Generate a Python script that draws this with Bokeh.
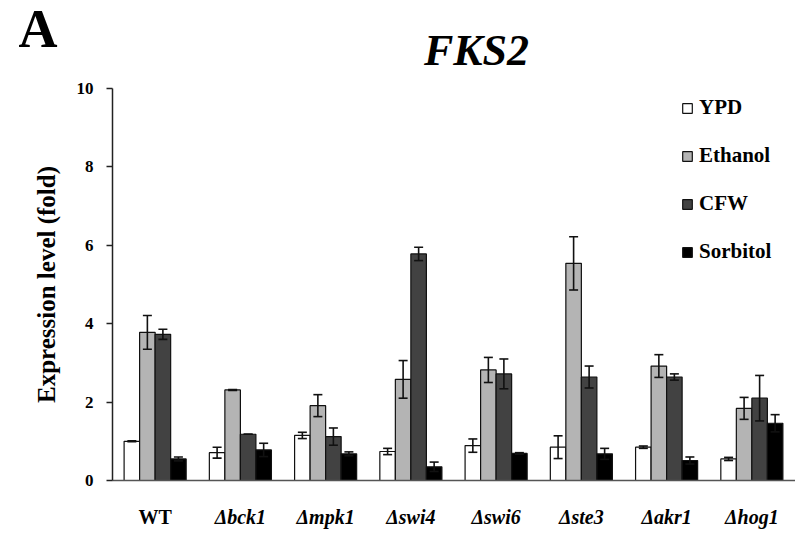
from bokeh.plotting import figure
from bokeh.models import (ColumnDataSource, Range1d, Whisker, TeeHead, LinearAxis,
                          Legend, LegendItem, SingleIntervalTicker, FixedTicker)
from bokeh.core.properties import value
from bokeh.embed import file_html
from bokeh.resources import INLINE

strains = ["WT", "Δbck1", "Δmpk1", "Δswi4", "Δswi6", "Δste3", "Δakr1", "Δhog1"]
conditions = ["YPD", "Ethanol", "CFW", "Sorbitol"]

ypd = [1.00, 0.71, 1.15, 0.74, 0.89, 0.85, 0.85, 0.55]
ypd_err = [0.01, 0.14, 0.08, 0.08, 0.17, 0.29, 0.03, 0.04]
ethanol = [3.78, 2.31, 1.91, 2.58, 2.82, 5.54, 2.92, 1.84]
ethanol_err = [0.43, 0.01, 0.28, 0.48, 0.32, 0.68, 0.29, 0.28]
cfw = [3.73, 1.18, 1.12, 5.78, 2.72, 2.64, 2.64, 2.10]
cfw_err = [0.13, 0.0, 0.22, 0.17, 0.38, 0.28, 0.08, 0.58]
sorbitol = [0.55, 0.78, 0.68, 0.35, 0.69, 0.68, 0.51, 1.46]
sorbitol_err = [0.05, 0.17, 0.05, 0.12, 0.02, 0.14, 0.09, 0.22]

title_text = "FKS2"
panel_letter = "A"
y_label = "Expression level (fold)"

values = [ypd, ethanol, cfw, sorbitol]
errors = [ypd_err, ethanol_err, cfw_err, sorbitol_err]
colors = ["#ffffff", "#b4b4b4", "#424242", "#000000"]

SERIF = "Liberation Serif"
n = len(strains)
centers = [i + 0.5 for i in range(n)]   # category slot centres (one unit per strain)

# the plotting frame spans the whole canvas; axes are pinned at x=0 / y=0
p = figure(x_range=Range1d(-1.314, n + 0.012), y_range=Range1d(-1.505, 12.245),
           width=795, height=539, output_backend="svg", toolbar_location=None,
           min_border_left=0, min_border_right=0, min_border_top=0, min_border_bottom=0,
           x_axis_type=None, y_axis_type=None)
p.outline_line_color = None
p.xgrid.visible = False
p.ygrid.visible = False
p.background_fill_color = "white"
p.border_fill_color = "white"

bar_w = 0.182
items = []
for j, (name, vals, errs, col) in enumerate(zip(conditions, values, errors, colors)):
    off = (j - 1.5) * bar_w
    src = ColumnDataSource(dict(x=[c + off for c in centers], top=vals,
                                upper=[v + e for v, e in zip(vals, errs)],
                                lower=[v - e for v, e in zip(vals, errs)]))
    r = p.vbar(x="x", top="top", bottom=0, width=bar_w, source=src,
               fill_color=col, line_color="#111111", line_width=1.2)
    items.append(LegendItem(label=name, renderers=[r]))
    p.add_layout(Whisker(base="x", upper="upper", lower="lower", source=src, level="overlay",
                         line_color="#111111", line_width=1.6,
                         upper_head=TeeHead(size=9, line_color="#111111", line_width=1.6),
                         lower_head=TeeHead(size=9, line_color="#111111", line_width=1.6)))

legend = Legend(items=items, location=(681, 275), padding=0, margin=0, spacing=23,
                glyph_width=12, glyph_height=12, label_standoff=6,
                label_text_font=SERIF, label_text_font_size="21px",
                label_text_font_style="bold", label_text_color="black",
                border_line_color=None, background_fill_alpha=0)
p.add_layout(legend)

# y axis pinned at x = 0
yax = LinearAxis(fixed_location=0, bounds=(0, 10), ticker=SingleIntervalTicker(interval=2))
yax.minor_tick_line_color = None
yax.major_tick_out = 6
yax.major_tick_in = 0
yax.axis_line_color = "#222222"
yax.axis_line_width = 1.5
yax.major_tick_line_color = "#222222"
yax.major_tick_line_width = 1.5
yax.major_label_standoff = 13
yax.major_label_text_font = SERIF
yax.major_label_text_font_style = "bold"
yax.major_label_text_font_size = "17px"
yax.major_label_text_color = "black"
yax.axis_label = y_label
yax.axis_label_text_font = SERIF
yax.axis_label_text_font_style = "bold"
yax.axis_label_text_font_size = "25px"
yax.axis_label_text_color = "black"
yax.axis_label_standoff = 14
p.add_layout(yax, "left")

# x axes pinned at y = 0: WT upright, mutants italic
def cat_axis(idx, style, line_color):
    ax = LinearAxis(fixed_location=0, bounds=(0, n + 0.012),
                    ticker=FixedTicker(ticks=[centers[i] for i in idx]),
                    major_label_overrides={centers[i]: strains[i] for i in idx})
    ax.axis_line_color = line_color
    ax.axis_line_width = 1.5
    ax.major_tick_line_color = None
    ax.minor_tick_line_color = None
    ax.major_tick_out = 0
    ax.major_tick_in = 0
    ax.major_label_standoff = 25
    ax.major_label_text_font = SERIF
    ax.major_label_text_font_style = style
    ax.major_label_text_font_size = "20px"
    ax.major_label_text_color = "black"
    return ax

p.add_layout(cat_axis([0], "bold", "#555555"), "below")
p.add_layout(cat_axis(list(range(1, n)), "bold italic", None), "below")

p.text(x=[4.27], y=[10.97], text=[title_text], text_align="center", text_baseline="middle",
       text_font=value(SERIF), text_font_size="44px", text_font_style="bold italic",
       text_color="black")
p.text(x=[-1.103], y=[11.53], text=[panel_letter], text_align="left", text_baseline="middle",
       text_font=value(SERIF), text_font_size="54px", text_font_style="bold",
       text_color="black")

open("out.html", "w").write(file_html(p, INLINE))
